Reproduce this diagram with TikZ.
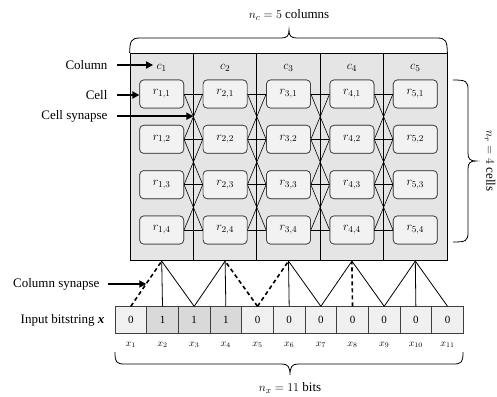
\documentclass[tikz,border=0pt]{standalone}
\usepackage{fontspec}
\setmainfont{Liberation Serif}
\usetikzlibrary{arrows.meta,calc}
\definecolor{colgray}{gray}{0.9}
\definecolor{cellgray}{gray}{0.95}
\definecolor{bitlight}{gray}{0.94}
\definecolor{bitdark}{gray}{0.85}
\begin{document}
\begin{tikzpicture}[x=1pt,y=-1pt,
  colbox/.style={draw=black, line width=0.8pt, fill=colgray, minimum width=63.4pt, minimum height=207.4pt, inner sep=0pt},
  cellbox/.style={draw=black!75, line width=0.7pt, fill=cellgray, rounded corners=4pt, minimum width=44pt, minimum height=28pt, inner sep=0pt, font=\fontsize{13}{15}\selectfont},
  bitbox/.style={draw=black!75, line width=0.7pt, minimum width=31.67pt, minimum height=26.7pt, inner sep=0pt, font=\fontsize{11}{13}\selectfont},
  lbl/.style={font=\fontsize{13}{15}\selectfont},
  sublbl/.style={font=\fontsize{10}{12}\selectfont},
  bigarrow/.style={line width=2.2pt, -{Triangle[length=7pt,width=7pt]}},
  syn/.style={line width=0.6pt},
  csyn/.style={line width=0.8pt},
  dsyn/.style={line width=1.6pt, dash pattern=on 4pt off 3pt},
  bracepath/.style={line width=0.8pt}
]
\useasboundingbox (0,0) rectangle (497,396);

% columns
\foreach \i in {1,...,5} {
  \node[colbox] (col\i) at ({130+63.4*(\i-0.5)},157) {};
  \node[lbl] (c\i) at ({130+63.4*(\i-0.5)},68) {$c_{\i}$};
}

% cell coordinates (for synapse lines)
\foreach \i in {1,...,5} {
  \foreach \j in {1,...,4} {
    \node[cellbox] (r-\i-\j) at ({130+63.4*(\i-0.5)},{94+45.33*(\j-1)}) {$r_{\i,\j}$};
  }
}

% cell synapses
\foreach \i [evaluate=\i as \k using int(\i+1)] in {1,...,4} {
  \foreach \j in {1,...,4} {
    \draw[syn] (r-\i-\j.east) -- (r-\k-\j.west);
  }
  \foreach \j [evaluate=\j as \m using int(\j+1)] in {1,...,3} {
    \draw[syn] (r-\i-\j.east) -- (r-\k-\m.west);
    \draw[syn] (r-\i-\m.east) -- (r-\k-\j.west);
  }
}

% redraw cells on top
\foreach \i in {1,...,5} {
  \foreach \j in {1,...,4} {
    \node[cellbox] at (r-\i-\j) {$r_{\i,\j}$};
  }
}

% input bits
\foreach \v [count=\n] in {0,1,1,1,0,0,0,0,0,0,0} {
  \ifnum\v=1
    \node[bitbox, fill=bitdark] (x\n) at ({115+31.67*(\n-0.5)},320) {\v};
  \else
    \node[bitbox, fill=bitlight] (x\n) at ({115+31.67*(\n-0.5)},320) {\v};
  \fi
  \node[sublbl] (xl\n) at ({115+31.67*(\n-0.5)},345) {$x_{\n}$};
}

% column synapses
\draw[dsyn] (x1.north) -- (col1.south);
\draw[csyn] (x2.north) -- (col1.south);
\draw[csyn] (x3.north) -- (col1.south);
\draw[csyn] (x3.north) -- (col2.south);
\draw[csyn] (x4.north) -- (col2.south);
\draw[dsyn] (x5.north) -- (col2.south);
\draw[dsyn] (x5.north) -- (col3.south);
\draw[csyn] (x6.north) -- (col3.south);
\draw[csyn] (x7.north) -- (col3.south);
\draw[csyn] (x7.north) -- (col4.south);
\draw[dsyn] (x8.north) -- (col4.south);
\draw[csyn] (x9.north) -- (col4.south);
\draw[csyn] (x9.north) -- (col5.south);
\draw[csyn] (x10.north) -- (col5.south);
\draw[csyn] (x11.north) -- (col5.south);

% left labels and arrows
\node[lbl, anchor=east] (lcol) at (111,65) {Column};
\draw[bigarrow] ([xshift=6pt]lcol.east) -- (lcol.east -| c1.west);
\node[lbl, anchor=east] (lcell) at (111,95) {Cell};
\draw[bigarrow] ([xshift=6pt]lcell.east) -- (lcell.east -| r-1-1.west);
\coordinate (cs) at ($(r-1-1.east)!0.5!(r-2-2.west)$);
\node[lbl, anchor=east] (lsyn) at (111,116.2) {Cell synapse};
\draw[bigarrow] ([xshift=6pt]lsyn.east) -- (lsyn.east -| cs);
\coordinate (colsyn) at ($(x1.north)!0.5!(col1.south)$);
\node[lbl, anchor=east] (lcs) at (103,284) {Column synapse};
\draw[bigarrow] ([xshift=5pt]lcs.east) -- (lcs.east -| colsyn);
\node[lbl, anchor=east] (linp) at (108,320) {Input bitstring \textbf{\textit{x}}};

% top brace
\draw[bracepath] (col1.north west) .. controls (130,41) and (131,38) .. (140,38) -- (281,38)
  .. controls (287,38) and (289,36) .. (289,30) .. controls (289,36) and (291,38) .. (297,38)
  -- (437,38) .. controls (446,38) and (447,41) .. (col5.north east);
\node[lbl] (nc) at (289,15) {$n_c = 5$ columns};

% right brace
\draw[bracepath] (453,80) .. controls (466,80) and (468,81) .. (468,90) -- (468,153)
  .. controls (468,159) and (470,161) .. (476,161) .. controls (470,161) and (468,163) .. (468,169)
  -- (468,232) .. controls (468,241) and (466,242) .. (453,242);
\node[lbl, rotate=-90] (nr) at (490,161) {$n_r = 4$ cells};

% bottom brace
\draw[bracepath] (115,352) .. controls (115,362) and (116,364) .. (125,364) -- (282,364)
  .. controls (288,364) and (290,367) .. (290,375) .. controls (290,367) and (292,364) .. (298,364)
  -- (453,364) .. controls (462,364) and (463,362) .. (463,352);
\node[lbl] (nx) at (290,388) {$n_x = 11$ bits};
\end{tikzpicture}
\end{document}
